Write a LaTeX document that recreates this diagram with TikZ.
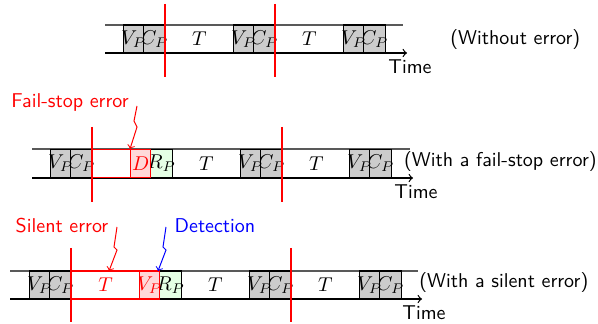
\documentclass[tikz,border=0pt]{standalone}
\newcommand\zw[1]{\makebox[0pt][c]{#1}}
\begin{document}
\begin{tikzpicture}[x=0.5pt,y=-0.5pt,
  cell/.style={draw, line width=0.6pt, inner sep=0pt, minimum height=14pt, anchor=west},
  vp/.style={cell, fill=gray!40, minimum width=10pt},
  cp/.style={cell, fill=gray!40, minimum width=11pt},
  rp/.style={cell, fill=green!10, minimum width=11pt},
  errbox/.style={cell, draw=red, fill=red!15, text=red, minimum width=10pt},
  lostbox/.style={cell, draw=red, fill=white, text=red},
  tt/.style={inner sep=0pt, minimum height=14pt, minimum width=34pt, anchor=west},
  topline/.style={black!65, line width=0.6pt},
  botline/.style={black, line width=0.6pt, ->},
  cut/.style={red, line width=1.2pt},
  timelab/.style={font=\sffamily},
  rowlab/.style={font=\sffamily, inner sep=0pt},
  bolt/.style={line width=0.5pt, ->},
]
\useasboundingbox (0,0) rectangle (598,324);

% ---------- Row 1 ----------
\coordinate (a1) at (105,25); \coordinate (a2) at (403,25);
\coordinate (a3) at (105,53); \coordinate (a4) at (407,53);
\draw[topline] (a1) -- (a2);
\draw[botline] (a3) -- (a4);
\node[cp] (r1c3) at (363,39) {\zw{$C_P$}};
\node[vp] (r1v3) at (343,39) {\zw{$V_P$}};
\node[tt] (r1t2) at (275,39) {$T$};
\node[cp] (r1c2) at (253,39) {\zw{$C_P$}};
\node[vp] (r1v2) at (233,39) {\zw{$V_P$}};
\node[tt] (r1t1) at (165,39) {$T$};
\node[cp] (r1c1) at (143,39) {\zw{$C_P$}};
\node[vp] (r1v1) at (123,39) {\zw{$V_P$}};
\coordinate (c11) at (165,4); \coordinate (c12) at (165,77);
\coordinate (c13) at (275,4); \coordinate (c14) at (275,77);
\draw[cut] (c11) -- (c12);
\draw[cut] (c13) -- (c14);
\node[timelab] (time1) at (410,67) {Time};
\node[rowlab, anchor=west] (lab1) at (450,40) {(Without error)};

% ---------- Row 2 ----------
\coordinate (b1) at (32,149); \coordinate (b2) at (410,149);
\coordinate (b3) at (32,178); \coordinate (b4) at (413,178);
\draw[topline] (b1) -- (b2);
\draw[botline] (b3) -- (b4);
\node[cp] (r2c3) at (369,163.5) {\zw{$C_P$}};
\node[vp] (r2v3) at (349,163.5) {\zw{$V_P$}};
\node[tt] (r2t2) at (282,163.5) {$T$};
\node[cp] (r2c2) at (260,163.5) {\zw{$C_P$}};
\node[vp] (r2v2) at (240,163.5) {\zw{$V_P$}};
\node[tt] (r2t1) at (172,163.5) {$T$};
\node[rp] (r2r) at (150,163.5) {\zw{$R_P$}};
\node[errbox] (r2d) at (130,163.5) {\zw{$D$}};
\node[lostbox, minimum width=19pt] (r2lost) at (92,163.5) {};
\node[cp] (r2c1) at (70,163.5) {\zw{$C_P$}};
\node[vp] (r2v1) at (50,163.5) {\zw{$V_P$}};
\coordinate (c21) at (92,127); \coordinate (c22) at (92,202);
\coordinate (c23) at (282,127); \coordinate (c24) at (282,202);
\draw[cut] (c21) -- (c22);
\draw[cut] (c23) -- (c24);
\node[timelab] (time2) at (416,192) {Time};
\node[rowlab, anchor=east] (lab2) at (597,162) {(With a fail-stop error)};
\node[font=\sffamily, text=red] (fs) at (70,103) {Fail-stop error};
\coordinate (fs1) at (137,106); \coordinate (fs2) at (134,121);
\coordinate (fs3) at (137,127); \coordinate (fs4) at (130,149);
\draw[bolt, red] (fs1) -- (fs2) -- (fs3) -- (fs4);

% ---------- Row 3 ----------
\coordinate (d1) at (10,271); \coordinate (d2) at (418,271);
\coordinate (d3) at (10,299); \coordinate (d4) at (422,299);
\draw[topline] (d1) -- (d2);
\draw[botline] (d3) -- (d4);
\node[cp] (r3c3) at (379,285) {\zw{$C_P$}};
\node[vp] (r3v3) at (359,285) {\zw{$V_P$}};
\node[tt] (r3t2) at (291,285) {$T$};
\node[cp] (r3c2) at (269,285) {\zw{$C_P$}};
\node[vp] (r3v2) at (249,285) {\zw{$V_P$}};
\node[tt] (r3t1) at (181,285) {$T$};
\node[rp] (r3r) at (159,285) {\zw{$R_P$}};
\node[errbox] (r3v) at (139,285) {\zw{$V_P$}};
\node[lostbox, minimum width=34pt] (r3lost) at (71,285) {$T$};
\node[cp] (r3c1) at (49,285) {\zw{$C_P$}};
\node[vp] (r3v1) at (29,285) {\zw{$V_P$}};
\coordinate (c31) at (71,248); \coordinate (c32) at (71,322);
\coordinate (c33) at (291,248); \coordinate (c34) at (291,322);
\draw[cut] (c31) -- (c32);
\draw[cut] (c33) -- (c34);
\node[timelab] (time3) at (424,313) {Time};
\node[rowlab, anchor=west] (lab3) at (419,283) {(With a silent error)};
\node[font=\sffamily, text=red] (se) at (62,226) {Silent error};
\node[font=\sffamily, text=blue] (det) at (215,226) {Detection};
\coordinate (se1) at (117,227); \coordinate (se2) at (114,247);
\coordinate (se3) at (117,250); \coordinate (se4) at (109,271);
\draw[bolt, red] (se1) -- (se2) -- (se3) -- (se4);
\coordinate (de1) at (166,227); \coordinate (de2) at (163,247);
\coordinate (de3) at (166,250); \coordinate (de4) at (158,271);
\draw[bolt, blue] (de1) -- (de2) -- (de3) -- (de4);
\end{tikzpicture}
\end{document}
